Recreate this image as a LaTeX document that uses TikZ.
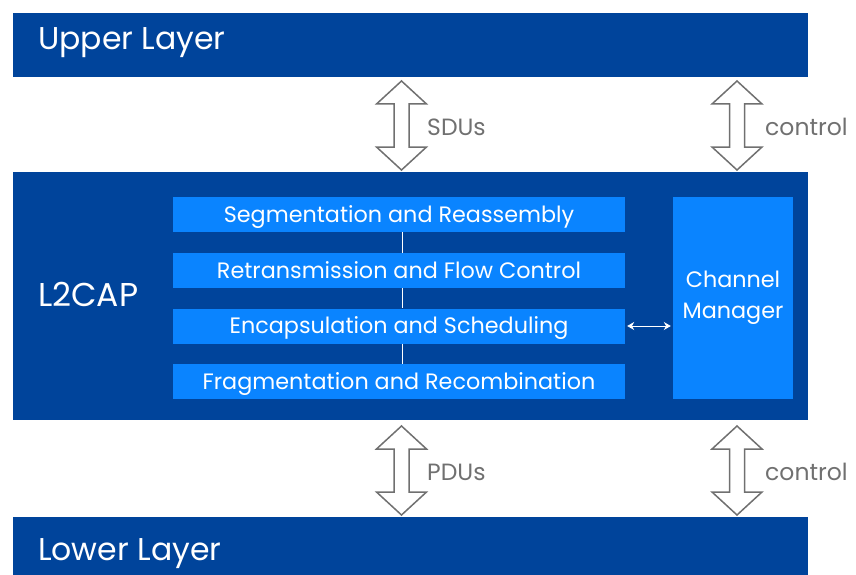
\documentclass[tikz,border=0pt]{standalone}
\usepackage{fontspec}
\setmainfont{Poppins}
\usetikzlibrary{arrows.meta}
\definecolor{darkblue}{RGB}{0,68,155}
\definecolor{lightblue}{RGB}{10,132,255}
\definecolor{arrowgray}{RGB}{112,112,112}
\tikzset{
  layer/.style={fill=darkblue,draw=none,minimum width=795pt,inner sep=0pt},
  layertext/.style={text=white,font=\fontsize{31.5}{36}\selectfont,anchor=west,inner sep=0pt,text height=21pt,text depth=0pt},
  subbox/.style={fill=lightblue,draw=none,minimum width=452pt,minimum height=35pt,inner sep=0pt,text=white,font=\fontsize{22.3}{28}\selectfont,text height=15.6pt,text depth=0pt},
  cmbox/.style={fill=lightblue,draw=none,minimum width=120pt,minimum height=202pt,inner sep=0pt,text=white,align=center,font=\fontsize{22.3}{31}\selectfont},
  hollow/.style={draw=arrowgray,line width=1.5pt,fill=white,line join=miter},
  glabel/.style={text=arrowgray,font=\fontsize{23.5}{28}\selectfont,anchor=west,inner sep=0pt},
  link/.style={draw=white,line width=1pt},
  bilink/.style={draw=white,line width=1pt,{Stealth[length=7pt,width=8pt]}-{Stealth[length=7pt,width=8pt]},shorten <=2pt,shorten >=2pt}
}
% hollow double arrow: #1 centre x, #2 top y, #3 bottom y (y grows downward)
\newcommand\hollowarrow[3]{%
  \draw[hollow] (#1,#2) -- ({#1+25},{#2+23}) -- ({#1+7.5},{#2+23}) -- ({#1+7.5},{#3-23})
    -- ({#1+25},{#3-23}) -- (#1,#3) -- ({#1-25},{#3-23}) -- ({#1-7.5},{#3-23})
    -- ({#1-7.5},{#2+23}) -- ({#1-25},{#2+23}) -- cycle;}
\begin{document}
\begin{tikzpicture}[x=1pt,y=-1pt]
\useasboundingbox (0,0) rectangle (856,575);
\begin{scope}
\clip (0,0) rectangle (856,575);
\node[layer,minimum height=64pt] (upper) at (410.5,45) {};
\node[layer,minimum height=248pt] (l2cap) at (410.5,296) {};
\node[layer,minimum height=60pt] (lower) at (410.5,547) {};
\end{scope}
\node[layertext] (uppertext) at (38,39.5) {Upper Layer};
\node[layertext,font=\fontsize{33}{36}\selectfont,text height=23pt] (l2captext) at (38,294.5) {L2CAP};
\node[layertext] (lowertext) at (38,549.5) {Lower Layer};

\node[subbox] (seg) at (399,214.5) {Segmentation and Reassembly};
\node[subbox] (ret) at (399,270.5) {Retransmission and Flow Control};
\node[subbox] (enc) at (399,326) {Encapsulation and Scheduling};
\node[subbox] (frag) at (399,381.5) {Fragmentation and Recombination};
\node[cmbox] (cm) at (733,298) {Channel\\Manager};

\draw[link] ([xshift=3pt]seg.south) -- ([xshift=3pt]ret.north);
\draw[link] ([xshift=3pt]ret.south) -- ([xshift=3pt]enc.north);
\draw[link] ([xshift=3pt]enc.south) -- ([xshift=3pt]frag.north);
\draw[bilink] (enc.east) -- (cm.west |- enc.east);

\hollowarrow{401.5}{81}{170}
\hollowarrow{737}{81}{170}
\hollowarrow{401.5}{426}{515}
\hollowarrow{737}{426}{515}
\node[glabel] (sdus) at (427,127) {SDUs};
\node[glabel] (ctrl1) at (765,127) {control};
\node[glabel] (pdus) at (427,472) {PDUs};
\node[glabel] (ctrl2) at (765,472) {control};
\end{tikzpicture}
\end{document}
